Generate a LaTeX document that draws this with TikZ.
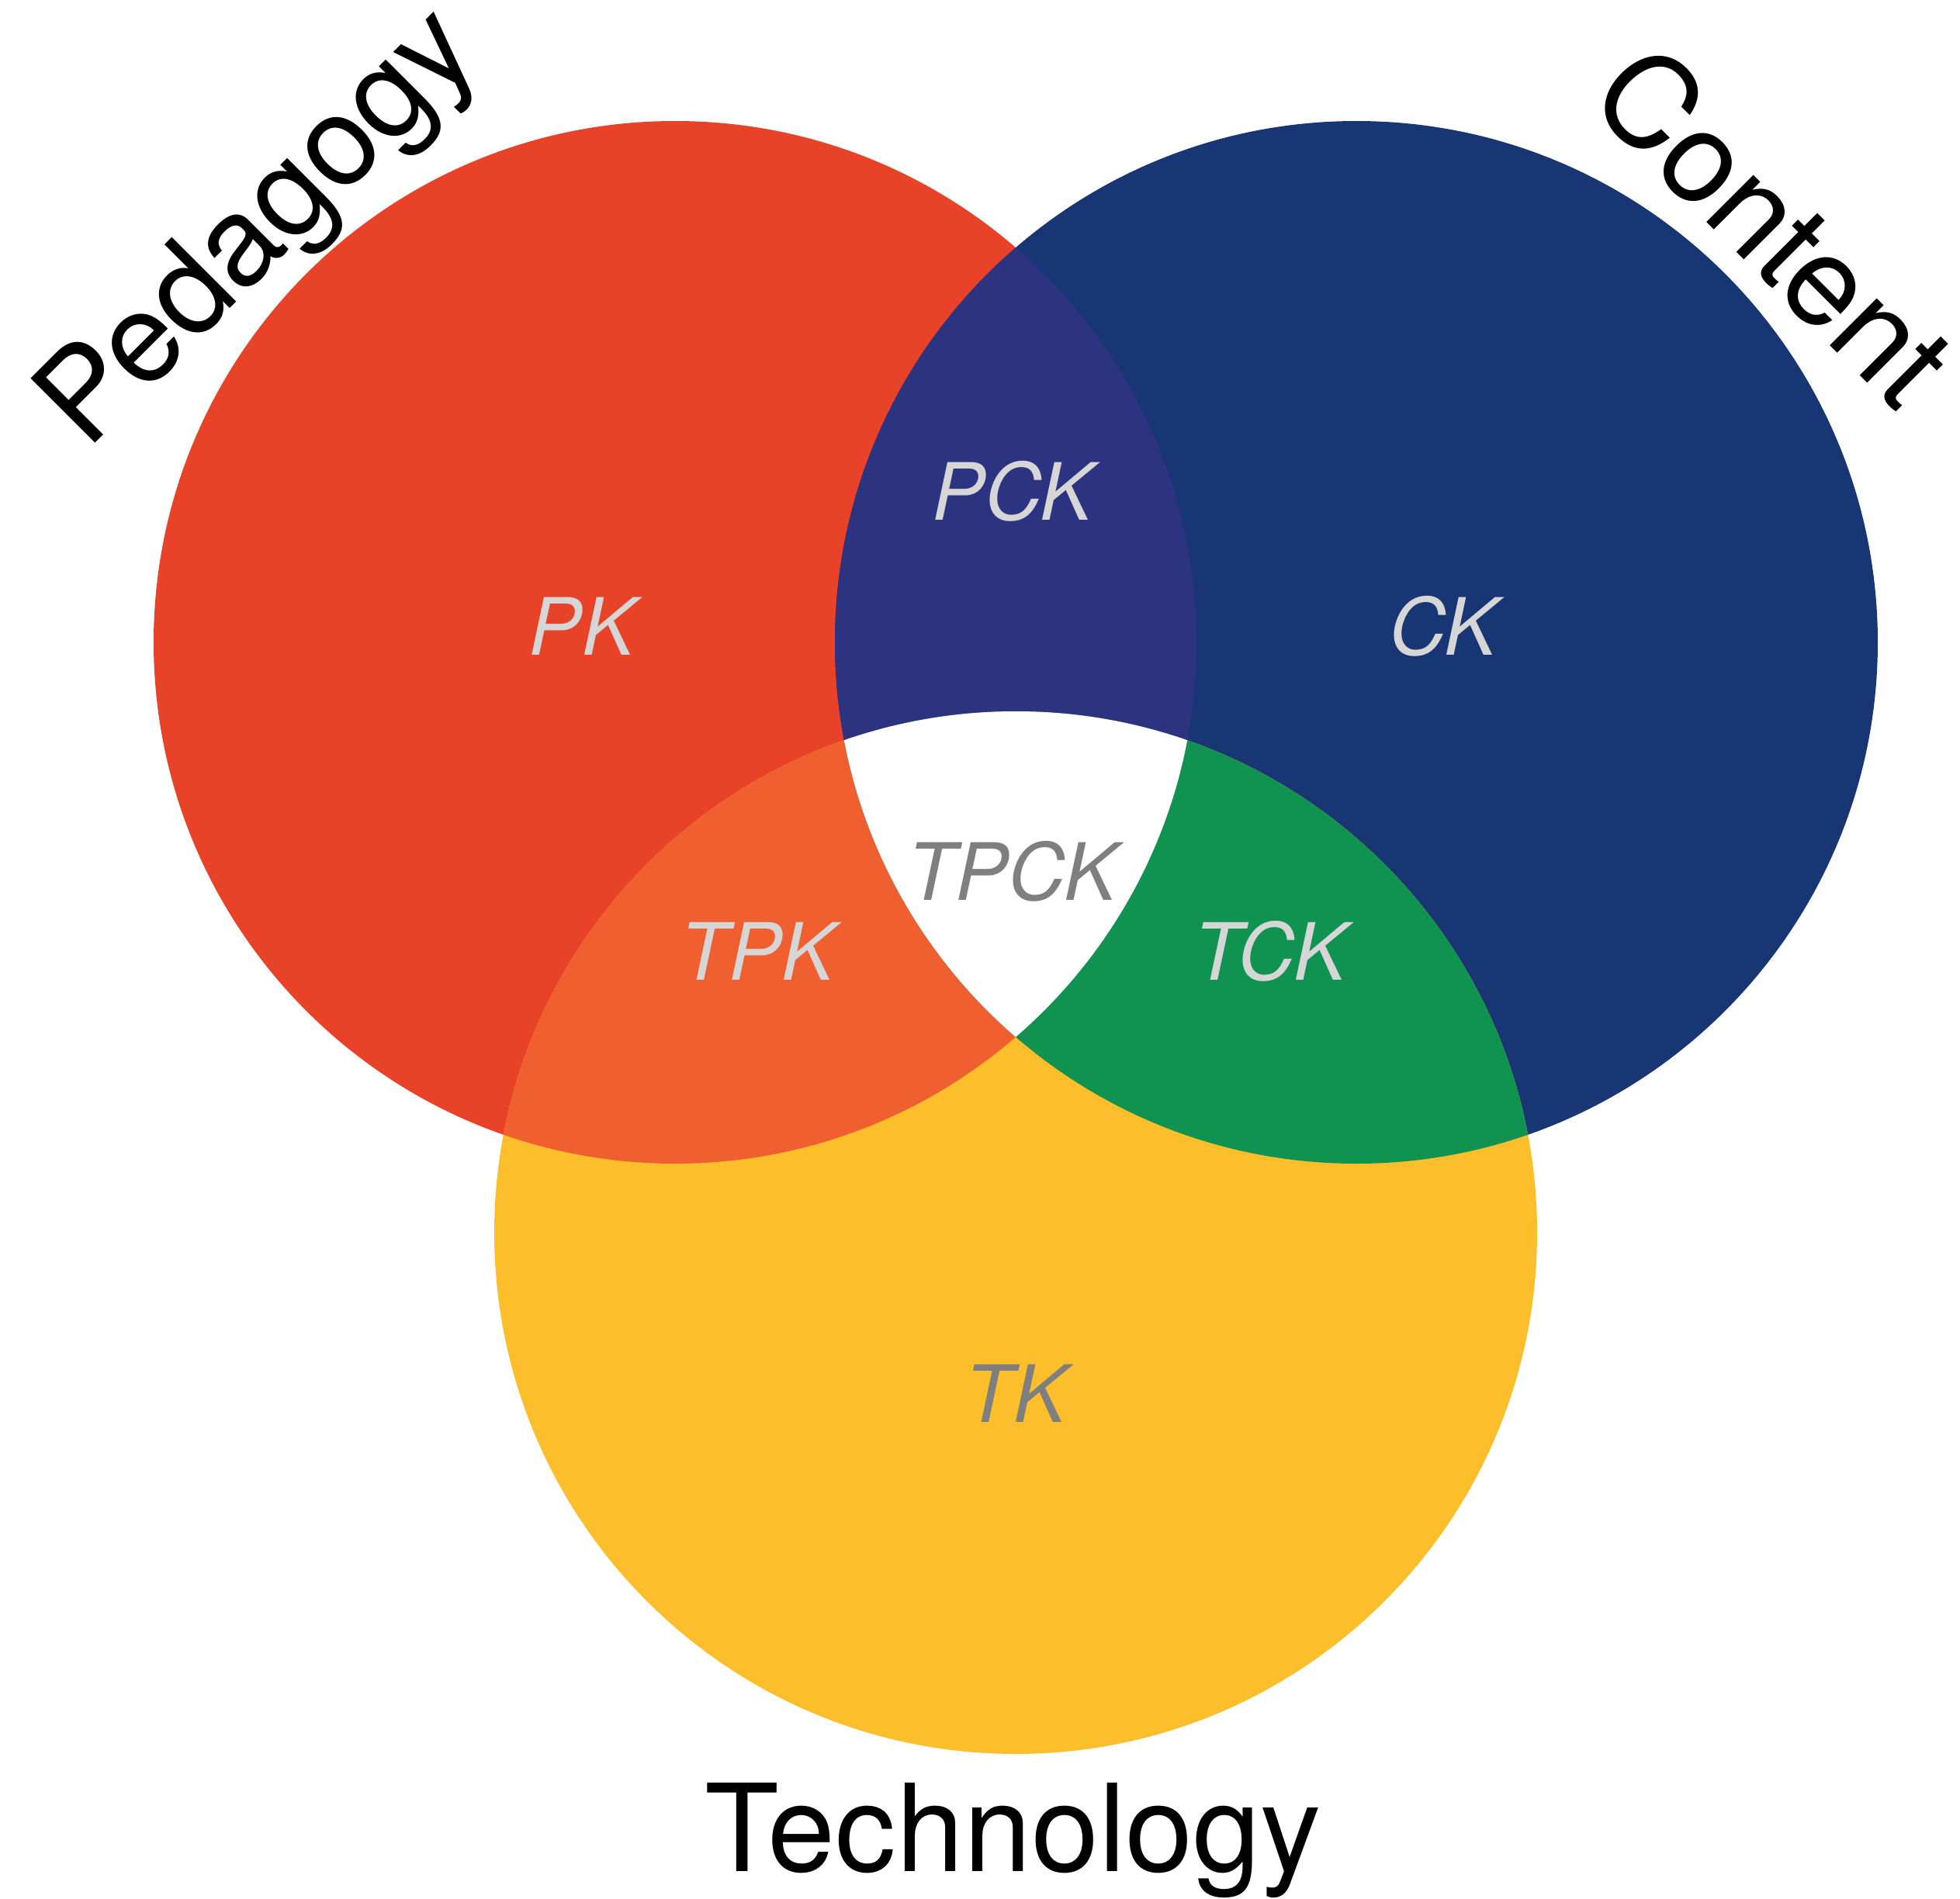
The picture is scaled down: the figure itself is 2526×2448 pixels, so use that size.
\documentclass[tikz,border=0pt]{standalone}
\usepackage{fontspec}
\setmainfont{TeX Gyre Heros}
\definecolor{cRed}{HTML}{E84329}
\definecolor{cBlue}{HTML}{183574}
\definecolor{cYel}{HTML}{FCBE2A}
\definecolor{cPur}{HTML}{2C3380}
\definecolor{cOra}{HTML}{F05F2F}
\definecolor{cGre}{HTML}{109250}
\definecolor{cLab}{HTML}{D6D6D6}
\definecolor{cDark}{HTML}{7F7F7F}
\begin{document}
\begin{tikzpicture}[x=0.01cm,y=-0.01cm,
  lab/.style={font=\fontsize{29}{30}\selectfont\itshape, text=cLab, anchor=base, inner sep=0pt},
  darklab/.style={lab, text=cDark},
  title/.style={font=\fontsize{44.5}{46}\selectfont, text=black, inner sep=0pt}]
\useasboundingbox (0,0) rectangle (2526,2448);
\def\R{672}
\coordinate (P) at (870,828);
\coordinate (C) at (1748,828);
\coordinate (T) at (1309,1589);
\fill[cRed] (P) circle (\R);
\fill[cBlue] (C) circle (\R);
\fill[cYel] (T) circle (\R);
\begin{scope}
  \clip (P) circle (\R);
  \fill[cPur] (C) circle (\R);
  \fill[cOra] (T) circle (\R);
\end{scope}
\begin{scope}
  \clip (C) circle (\R);
  \fill[cGre] (T) circle (\R);
\end{scope}
\begin{scope}
  \clip (P) circle (\R);
  \clip (C) circle (\R);
  \fill[white] (T) circle (\R);
\end{scope}
\node[lab] (pk) at (750,844) {PK};
\node[lab] (pck) at (1305,670) {PCK};
\node[lab] (ck) at (1860,844) {CK};
\node[darklab] (tpck) at (1304,1160) {TPCK};
\node[lab] (tpk) at (976,1263) {TPK};
\node[lab] (tck) at (1637,1263) {TCK};
\node[darklab] (tk) at (1309,1833) {TK};
\node[title, anchor=base] (tech) at (1306,2412) {Technology};
\node[title, font=\fontsize{45.8}{47}\selectfont, rotate=45] (ped) at (338,298) {Pedagogy};
\node[title, font=\fontsize{46.5}{48}\selectfont, rotate=-45] (con) at (2287,290) {Content};
\end{tikzpicture}
\end{document}
